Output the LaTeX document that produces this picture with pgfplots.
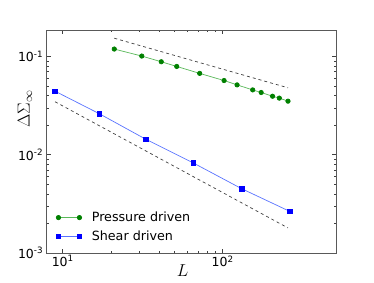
\documentclass[border=0pt]{standalone}
\usepackage{fontspec}
\setmainfont{DejaVu Sans}
\usepackage{pgfplots}
\pgfplotsset{compat=1.18}
\definecolor{gline}{rgb}{0.35,0.72,0.35}
\definecolor{gmark}{rgb}{0,0.5,0}
\definecolor{bline}{rgb}{0.35,0.45,1}
\definecolor{bmark}{rgb}{0,0,1}
\begin{document}
\begin{tikzpicture}
\useasboundingbox (-46.7pt,-29pt) rectangle (327.3pt,253pt);
\begin{loglogaxis}[
  at={(0pt,0pt)}, anchor=south west,
  scale only axis, width=289.3pt, height=223pt,
  xmin=7.94, xmax=511, ymin=1e-3, ymax=0.186,
  xtick={10,100}, xticklabels={10\textsuperscript{1},10\textsuperscript{2}},
  ytick={1e-3,1e-2,1e-1}, yticklabels={10\textsuperscript{-3},10\textsuperscript{-2},10\textsuperscript{-1}},
  tick label style={font=\fontsize{12.5}{14}\selectfont},
  xticklabel style={yshift=1pt},
  tick align=inside, major tick length=4.5pt, minor tick length=2.2pt,
  tick style={line width=0.5pt, black!75},
  axis line style={line width=0.8pt, black!65},
  xlabel={$L$}, ylabel={$\Delta\Sigma_\infty$},
  label style={font=\fontsize{17.5}{20}\selectfont},
  xlabel style={at={(axis description cs:0.47,-0.035)}, anchor=north},
  ylabel style={at={(axis description cs:-0.075,0.646)}, anchor=center},
  legend style={draw=none, fill=none, inner sep=0pt, at={(rel axis cs:0.032,0.117)}, anchor=west, font=\fontsize{12.7}{14}\selectfont, row sep=3.5pt},
  legend cell align=left,
  legend image code/.code={\draw[#1] plot coordinates {(0pt,0pt) (21pt,0pt)}; \path (31pt,0pt);},
]
\addplot[gline, line width=0.7pt, mark=*, mark size=2.2pt, mark options={fill=gmark, draw=gmark}] coordinates {
(21,0.119) (31.2,0.101) (41.3,0.0884) (51.6,0.0792) (71.8,0.0673) (102,0.0569) (123,0.0514) (154,0.0457) (174,0.043) (205,0.0394) (226,0.0377) (256,0.0351)};
\addlegendentry{Pressure driven}
\addplot[bline, line width=0.7pt, mark=square*, mark size=2.3pt, mark options={fill=bmark, draw=bmark}] coordinates {
(8.96,0.0443) (16.9,0.0262) (33,0.0144) (65.5,0.00825) (131.5,0.00451) (263,0.00265)};
\addlegendentry{Shear driven}
\addplot[black!75, line width=0.7pt, dash pattern=on 3pt off 3pt, forget plot] coordinates {(21,0.1534) (256,0.048)};
\addplot[black!75, line width=0.7pt, dash pattern=on 3pt off 3pt, forget plot] coordinates {(8.96,0.0346) (256,0.0018)};
\end{loglogaxis}
\end{tikzpicture}
\end{document}
